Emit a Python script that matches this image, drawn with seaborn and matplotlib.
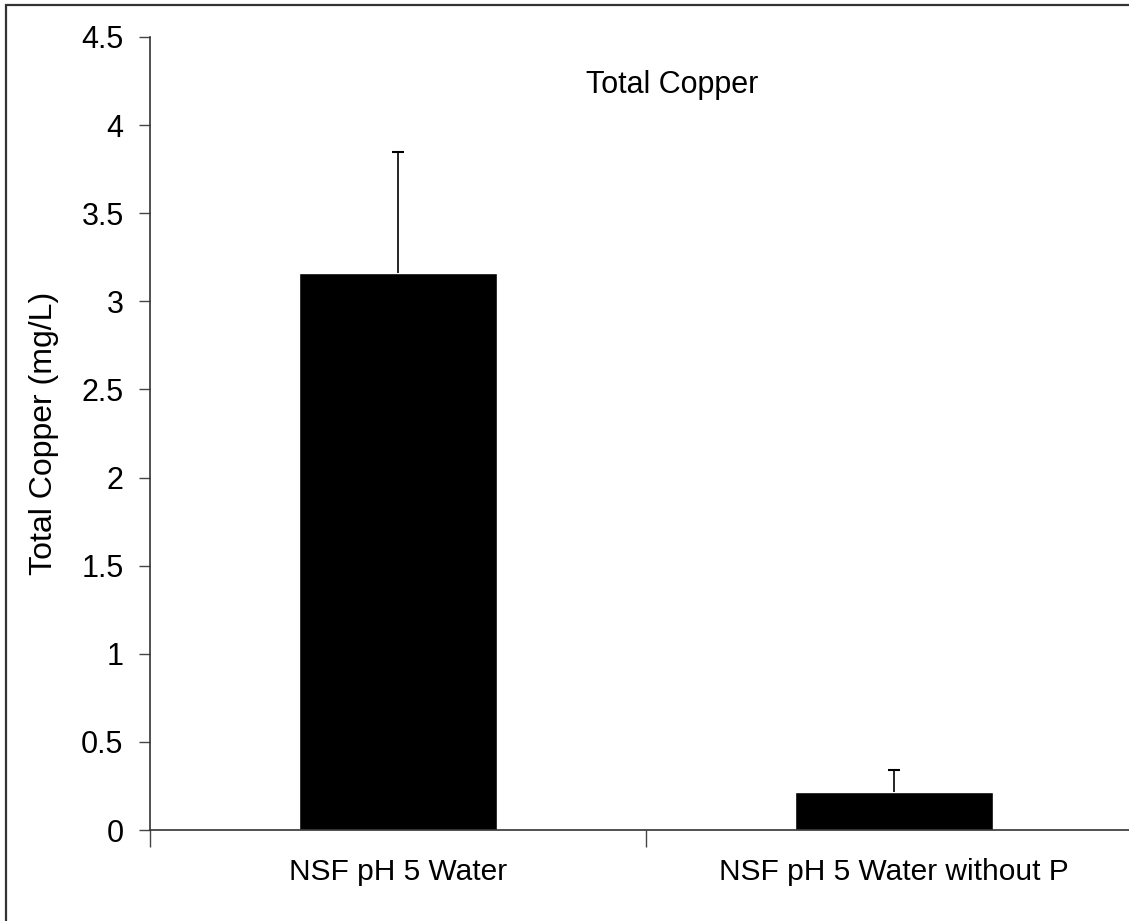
"""total copper bar chart for NSF pH 5 water with and without P"""

import numpy as np
import pandas as pd
import matplotlib.pyplot as plt
import matplotlib.patches as patches
import seaborn as sns

categories = ["NSF pH 5 Water", "NSF pH 5 Water without P"]
copper = [3.16, 0.215]
copper_err = [0.69, 0.125]
y_ticks = [0, 0.5, 1, 1.5, 2, 2.5, 3, 3.5, 4, 4.5]


def copper_graph():
    """bar chart of total copper with upper error bars"""
    df = pd.DataFrame({"Water": categories, "Copper": copper})

    sns.set_theme(style="white")
    plt.rcParams["font.family"] = ["Liberation Sans", "DejaVu Sans"]
    plt.rcParams["text.color"] = "black"
    plt.rcParams["axes.labelcolor"] = "black"
    plt.rcParams["xtick.color"] = "black"
    plt.rcParams["ytick.color"] = "black"

    fig = plt.figure(figsize=(11.29, 9.21), dpi=100)
    ax = fig.add_axes([150 / 1129, 91 / 921, 992 / 1129, 793 / 921])

    sns.barplot(data=df, x="Water", y="Copper", color="black", width=0.4,
                errorbar=None, ax=ax, saturation=1)
    _, caps, _ = ax.errorbar(range(len(categories)), copper,
                             yerr=[[0] * len(copper), copper_err],
                             fmt="none", ecolor="black", elinewidth=1.2,
                             capsize=4.5, capthick=1.5)
    # only keep the upper caps
    for cap in caps:
        if np.allclose(cap.get_ydata(), copper):
            cap.set_visible(False)

    ax.set_xlim(-0.5, 1.5)
    ax.set_ylim(0, 4.5)
    ax.set_yticks(y_ticks)
    ax.set_yticklabels([f"{v:g}" for v in y_ticks])

    # category boundaries get the tick marks, labels sit between them
    ax.set_xticks([-0.5, 0.5, 1.5], minor=True)
    ax.tick_params(axis="x", which="major", length=0, pad=20, labelsize=21.5)
    ax.tick_params(axis="x", which="minor", length=12, width=1, color="#444444",
                   direction="out", bottom=True)
    ax.tick_params(axis="y", length=8, width=1, color="#444444",
                   direction="out", left=True, labelsize=22, pad=11)

    for side in ["top", "right"]:
        ax.spines[side].set_visible(False)
    for side in ["left", "bottom"]:
        ax.spines[side].set_color("#333333")
        ax.spines[side].set_linewidth(1.2)

    ax.set_xlabel("")
    ax.set_ylabel("Total Copper (mg/L)", fontsize=23, labelpad=16)
    ax.text(522 / 992, 0.94, "Total Copper", transform=ax.transAxes,
            ha="center", va="center", fontsize=22)
    ax.set_facecolor("white")

    # frame around the whole figure (right and bottom fall off the canvas)
    fig.patches.append(patches.Rectangle(
        (6 / 1129, -0.02), 1.05, 1 - 5 / 921 + 0.02,
        transform=fig.transFigure, fill=False, edgecolor="#333333",
        linewidth=1.6))

    fig.savefig("out.png", dpi=100, facecolor="white")
    plt.close(fig)


copper_graph()
